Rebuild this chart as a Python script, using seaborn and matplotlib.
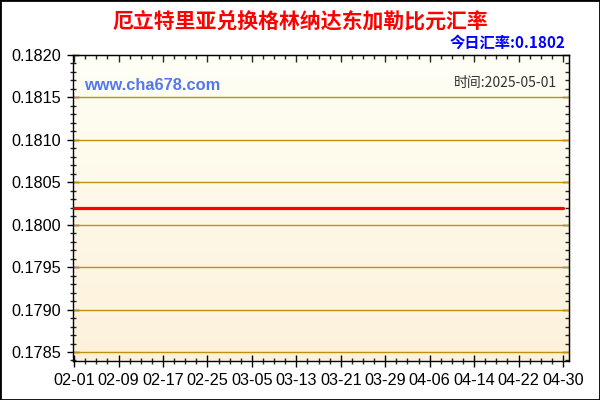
import numpy as np
import pandas as pd
import matplotlib
matplotlib.use("Agg")
import matplotlib.pyplot as plt
import matplotlib.dates as mdates
from matplotlib.colors import LinearSegmentedColormap
from matplotlib.patches import Rectangle
from matplotlib.ticker import FixedLocator, NullFormatter
import seaborn as sns

# data
dates = ["2025-02-01", "2025-02-09", "2025-02-17", "2025-02-25", "2025-03-05", "2025-03-13",
         "2025-03-21", "2025-03-29", "2025-04-06", "2025-04-14", "2025-04-22", "2025-04-30"]
rates = [0.1802, 0.1802, 0.1802, 0.1802, 0.1802, 0.1802,
         0.1802, 0.1802, 0.1802, 0.1802, 0.1802, 0.1802]
y_ticks = [0.1785, 0.1790, 0.1795, 0.1800, 0.1805, 0.1810, 0.1815, 0.1820]
title = "厄立特里亚兑换格林纳达东加勒比元汇率"
today_text = "今日汇率:0.1802"
site_text = "www.cha678.com"
time_text = "时间:2025-05-01"

df = pd.DataFrame({"date": pd.to_datetime(dates), "rate": rates})

sns.set_style("ticks")
plt.rcParams["font.family"] = ["Liberation Sans", "Noto Sans CJK SC", "DejaVu Sans"]
cjk = ["Noto Sans CJK SC", "DejaVu Sans"]

fig = plt.figure(figsize=(6, 4), dpi=100)
ax = fig.add_axes([0.1212, 0.0975, 0.8263, 0.765])

# gradient background, white at the top to cream at the bottom
cmap = LinearSegmentedColormap.from_list("bg", ["#FFFFF6", "#FDF1DA"])
grad = np.linspace(0, 1, 256).reshape(-1, 1)
ax.imshow(grad, cmap=cmap, aspect="auto", extent=[0, 1, 0, 1],
          transform=ax.transAxes, zorder=0)

sns.lineplot(data=df, x="date", y="rate", ax=ax, color="#FF0000", linewidth=2.3, zorder=3)

ax.set_xlim(pd.Timestamp("2025-01-31 18:00"), pd.Timestamp("2025-05-01 00:00"))
ax.set_ylim(0.178394, 0.1820)
ax.set_yticks(y_ticks)
ax.yaxis.set_major_formatter(plt.FormatStrFormatter("%.4f"))
ax.yaxis.set_minor_locator(plt.MultipleLocator(0.0001))
ax.set_xticks(df["date"])
ax.xaxis.set_major_formatter(mdates.DateFormatter("%m-%d"))
minor_days = mdates.date2num(pd.date_range("2025-02-01", "2025-04-30", freq="2D"))
ax.xaxis.set_minor_locator(FixedLocator(minor_days))
ax.set_xlabel("")
ax.set_ylabel("")

for yv in y_ticks[:-1]:
    ax.axhline(yv, color="#C09010", linewidth=1, zorder=2)

for s in ax.spines.values():
    s.set_color("black")
    s.set_linewidth(1)

ax.tick_params(axis="both", which="major", direction="inout", length=9, width=1,
               labelsize=11.7, colors="black")
ax.tick_params(axis="both", which="minor", direction="inout", length=5, width=1)
ax.tick_params(axis="x", pad=4)
ax.tick_params(axis="y", pad=4)

# inward ticks on top and right
top = ax.secondary_xaxis("top")
top.xaxis.set_major_locator(FixedLocator(mdates.date2num(df["date"])))
top.xaxis.set_minor_locator(FixedLocator(minor_days))
top.xaxis.set_major_formatter(NullFormatter())
top.tick_params(which="major", direction="in", length=5, width=1)
top.tick_params(which="minor", direction="in", length=3, width=1)
right = ax.secondary_yaxis("right")
right.yaxis.set_major_locator(FixedLocator(y_ticks))
right.yaxis.set_minor_locator(plt.MultipleLocator(0.0001))
right.yaxis.set_major_formatter(NullFormatter())
right.tick_params(which="major", direction="in", length=5, width=1)
right.tick_params(which="minor", direction="in", length=3, width=1)

fig.text(0.5, 0.948, title, ha="center", va="center", color="#FF0000",
         fontsize=15, fontweight="bold", family=cjk)
fig.text(0.942, 0.892, today_text, ha="right", va="center", color="#0000FF",
         fontsize=11, fontweight="bold", family=cjk)
ax.text(0.023, 0.9, site_text, transform=ax.transAxes, ha="left", va="center",
        color="#5577EE", fontsize=11.8, fontweight="bold")
ax.text(0.977, 0.91, time_text, transform=ax.transAxes, ha="right", va="center",
        color="#333333", fontsize=10, family=cjk)

fig.patches.append(Rectangle((0, 0), 1, 1, transform=fig.transFigure, fill=False,
                             edgecolor="black", linewidth=2))

fig.savefig("out.png", dpi=100)
